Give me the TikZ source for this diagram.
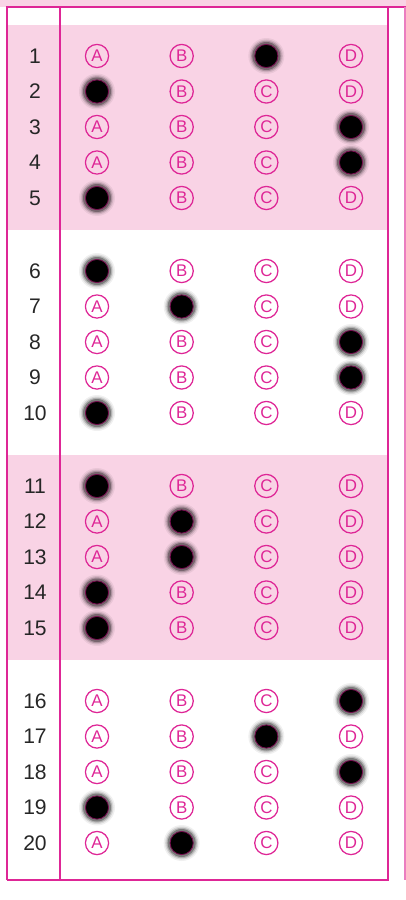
\documentclass[tikz,border=0pt]{standalone}
\usepackage{fontspec}
\setmainfont{Liberation Sans}
\usepackage{xcolor}
\usetikzlibrary{positioning}
\definecolor{sheetline}{RGB}{222,38,150}
\definecolor{bandpink}{RGB}{249,211,229}
\definecolor{inkrim}{RGB}{120,15,80}
\tikzset{
    bubble/.style={
        circle, draw=sheetline, line width=0.9pt,
        minimum size=0.58cm, inner sep=0pt,
        text=sheetline, font=\fontsize{12}{12}\selectfont
    },
    inked/.style={
        circle, fill=black, draw=inkrim,
        line width=0.6pt, minimum size=0.58cm, inner sep=0pt
    },
    qnum/.style={
        font=\fontsize{15}{15}\selectfont, text=black!85
    },
    frame/.style={draw=sheetline, line width=1.4pt}
}

\begin{document}
\begin{tikzpicture}[x=0.025cm, y=-0.025cm]

        \useasboundingbox (0,0) rectangle (406,900);

        % Header strip and shaded blocks
        \fill[bandpink] (0,0) rectangle (406,7);
        \foreach \blk in {0,2} {
            \fill[bandpink] (7,25+215*\blk) rectangle (388,230+215*\blk);
        }

        % Frame
        \draw[frame] (7,880) -- (7,7) -- (406,7);
        \draw[frame] (60,7) -- (60,880);
        \draw[frame] (388,7) -- (388,880) -- (7,880);
        \draw[sheetline!60, line width=1pt] (405,7) -- (405,880);

        % Questions with their marked answer
        \foreach \q/\ans in {1/C,2/A,3/D,4/D,5/A,6/A,7/B,8/D,9/D,10/A,
                             11/A,12/B,13/B,14/A,15/A,16/D,17/C,18/D,19/A,20/B} {
            \pgfmathtruncatemacro{\blk}{(\q-1)/5}
            \pgfmathsetmacro{\ypos}{56+215*\blk+35.5*(\q-1-5*\blk)}
            \node[qnum] (n\q) at (35,\ypos) {\q};
            \foreach \k/\ltr in {0/A,1/B,2/C,3/D} {
                \pgfmathsetmacro{\xpos}{97+84.67*\k}
                \ifx\ltr\ans
                    % smudge round the pencil mark
                    \foreach \r/\o in {18/0.06,16.5/0.1,15.2/0.18,14/0.3} {
                        \fill[black, opacity=\o] (\xpos,\ypos) circle[radius=\r];
                    }
                    \node[inked] (q\q\ltr) at (\xpos,\ypos) {};
                \else
                    \node[bubble] (q\q\ltr) at (\xpos,\ypos) {\ltr};
                \fi
            }
        }

\end{tikzpicture}
\end{document}
